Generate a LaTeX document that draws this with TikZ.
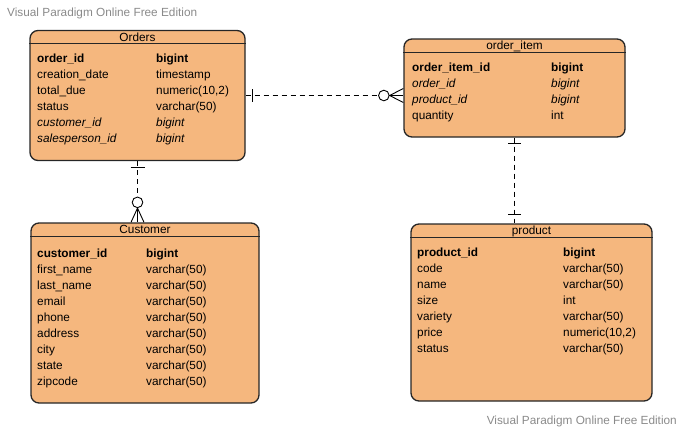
\documentclass[tikz,border=0pt]{standalone}
\usepackage{fontspec}
\setmainfont{Liberation Sans}
\usetikzlibrary{positioning}
\definecolor{tablefill}{HTML}{F5B77E}
\definecolor{tableline}{HTML}{262626}
\definecolor{wmgray}{HTML}{8A8A8A}

\tikzset{
  table/.style={draw=tableline,line width=1.3pt,rounded corners=8pt,fill=tablefill,inner sep=0pt},
  title/.style={anchor=base,inner sep=0pt,font=\fontsize{11.8}{14}\selectfont},
  pk/.style={anchor=base west,inner sep=0pt,font=\fontsize{11.8}{14}\selectfont\bfseries},
  fk/.style={anchor=base west,inner sep=0pt,font=\fontsize{11.8}{14}\selectfont\itshape},
  col/.style={anchor=base west,inner sep=0pt,font=\fontsize{11.8}{14}\selectfont},
  wm/.style={inner sep=0pt,text=wmgray,font=\fontsize{11.8}{14}\selectfont},
  rel/.style={line width=0.9pt,dash pattern=on 5pt off 4pt},
  onebar/.style={line width=1.1pt},
  zerocircle/.style={draw,circle,fill=white,line width=0.9pt,minimum size=10.6pt,inner sep=0pt},
}

\begin{document}
\begin{tikzpicture}[x=1pt,y=-1pt]
  \useasboundingbox (0,0) rectangle (683,432);

  % watermarks
  \node[wm,anchor=base west] (wm-top) at (7,16.5) {Visual Paradigm Online Free Edition};
  \node[wm,anchor=base east] (wm-bottom) at (677,424.5) {Visual Paradigm Online Free Edition};

  % tables
  \node[table,minimum width=215pt,minimum height=130pt] (orders) at (137.5,95.5) {};
  \node[table,minimum width=221pt,minimum height=98pt] (item) at (514.5,88) {};
  \node[table,minimum width=228pt,minimum height=180pt] (customer) at (145,313) {};
  \node[table,minimum width=241pt,minimum height=177pt] (product) at (531.5,312.5) {};

  \foreach \t/\name in {orders/Orders,item/order\_item,customer/Customer,product/product}{
    \node[title] (\t-title) at ([yshift=-11.5pt]\t.north) {\name};
    \draw[tableline,line width=1pt] ([yshift=-14pt]\t.north west) -- ([yshift=-14pt]\t.north east);
  }

  % Orders rows
  \foreach \s/\n/\ty [count=\i from 0] in {pk/order\_id/bigint, col/creation\_date/timestamp,
      col/total\_due/{numeric(10,2)}, col/status/varchar(50), fk/customer\_id/bigint,
      fk/salesperson\_id/bigint}{
    \node[\s] (orders-n\i) at (37,{62.5+16*\i}) {\n};
    \node[\s] (orders-t\i) at (156,{62.5+16*\i}) {\ty};
  }

  % order_item rows
  \foreach \s/\n/\ty [count=\i from 0] in {pk/order\_item\_id/bigint, fk/order\_id/bigint,
      fk/product\_id/bigint, col/quantity/int}{
    \node[\s] (item-n\i) at (412,{71.5+16*\i}) {\n};
    \node[\s] (item-t\i) at (551,{71.5+16*\i}) {\ty};
  }

  % Customer rows
  \foreach \s/\n/\ty [count=\i from 0] in {pk/customer\_id/bigint, col/first\_name/varchar(50),
      col/last\_name/varchar(50), col/email/varchar(50), col/phone/varchar(50),
      col/address/varchar(50), col/city/varchar(50), col/state/varchar(50),
      col/zipcode/varchar(50)}{
    \node[\s] (customer-n\i) at (37,{257.5+16*\i}) {\n};
    \node[\s] (customer-t\i) at (146,{257.5+16*\i}) {\ty};
  }

  % product rows
  \foreach \s/\n/\ty [count=\i from 0] in {pk/product\_id/bigint, col/code/varchar(50),
      col/name/varchar(50), col/size/int, col/variety/varchar(50),
      col/price/{numeric(10,2)}, col/status/varchar(50)}{
    \node[\s] (product-n\i) at (417,{256.5+16*\i}) {\n};
    \node[\s] (product-t\i) at (563,{256.5+16*\i}) {\ty};
  }

  % Orders -- order_item
  \coordinate (oi-end) at (orders.east -| item.west);
  \node[zerocircle] (oi-circle) at ([xshift=-19.5pt]oi-end) {};
  \draw[rel] (orders.east) -- (oi-circle);
  \draw[line width=0.9pt] ([yshift=7pt]oi-end) -- (oi-circle.east) -- ([yshift=-7pt]oi-end);
  \draw[line width=0.9pt] (oi-circle.east) -- (oi-end);
  \draw[onebar] ([xshift=6.5pt,yshift=6.5pt]orders.east) -- ([xshift=6.5pt,yshift=-6.5pt]orders.east);

  % Orders -- Customer
  \coordinate (oc-end) at (orders.south |- customer.north);
  \node[zerocircle] (oc-circle) at ([yshift=20pt]oc-end) {};
  \draw[rel] (orders.south) -- (oc-circle);
  \draw[line width=0.9pt] ([xshift=-6.5pt]oc-end) -- (oc-circle.south) -- ([xshift=6.5pt]oc-end);
  \draw[line width=0.9pt] (oc-circle.south) -- (oc-end);
  \draw[onebar] ([xshift=-7pt,yshift=-6.5pt]orders.south) -- ([xshift=7pt,yshift=-6.5pt]orders.south);

  % order_item -- product
  \coordinate (ip-end) at (item.south |- product.north);
  \draw[rel] (item.south) -- (ip-end);
  \draw[onebar] ([xshift=-6.5pt,yshift=-6pt]item.south) -- ([xshift=6.5pt,yshift=-6pt]item.south);
  \draw[onebar] ([xshift=-6.5pt,yshift=9pt]ip-end) -- ([xshift=6.5pt,yshift=9pt]ip-end);
\end{tikzpicture}
\end{document}
